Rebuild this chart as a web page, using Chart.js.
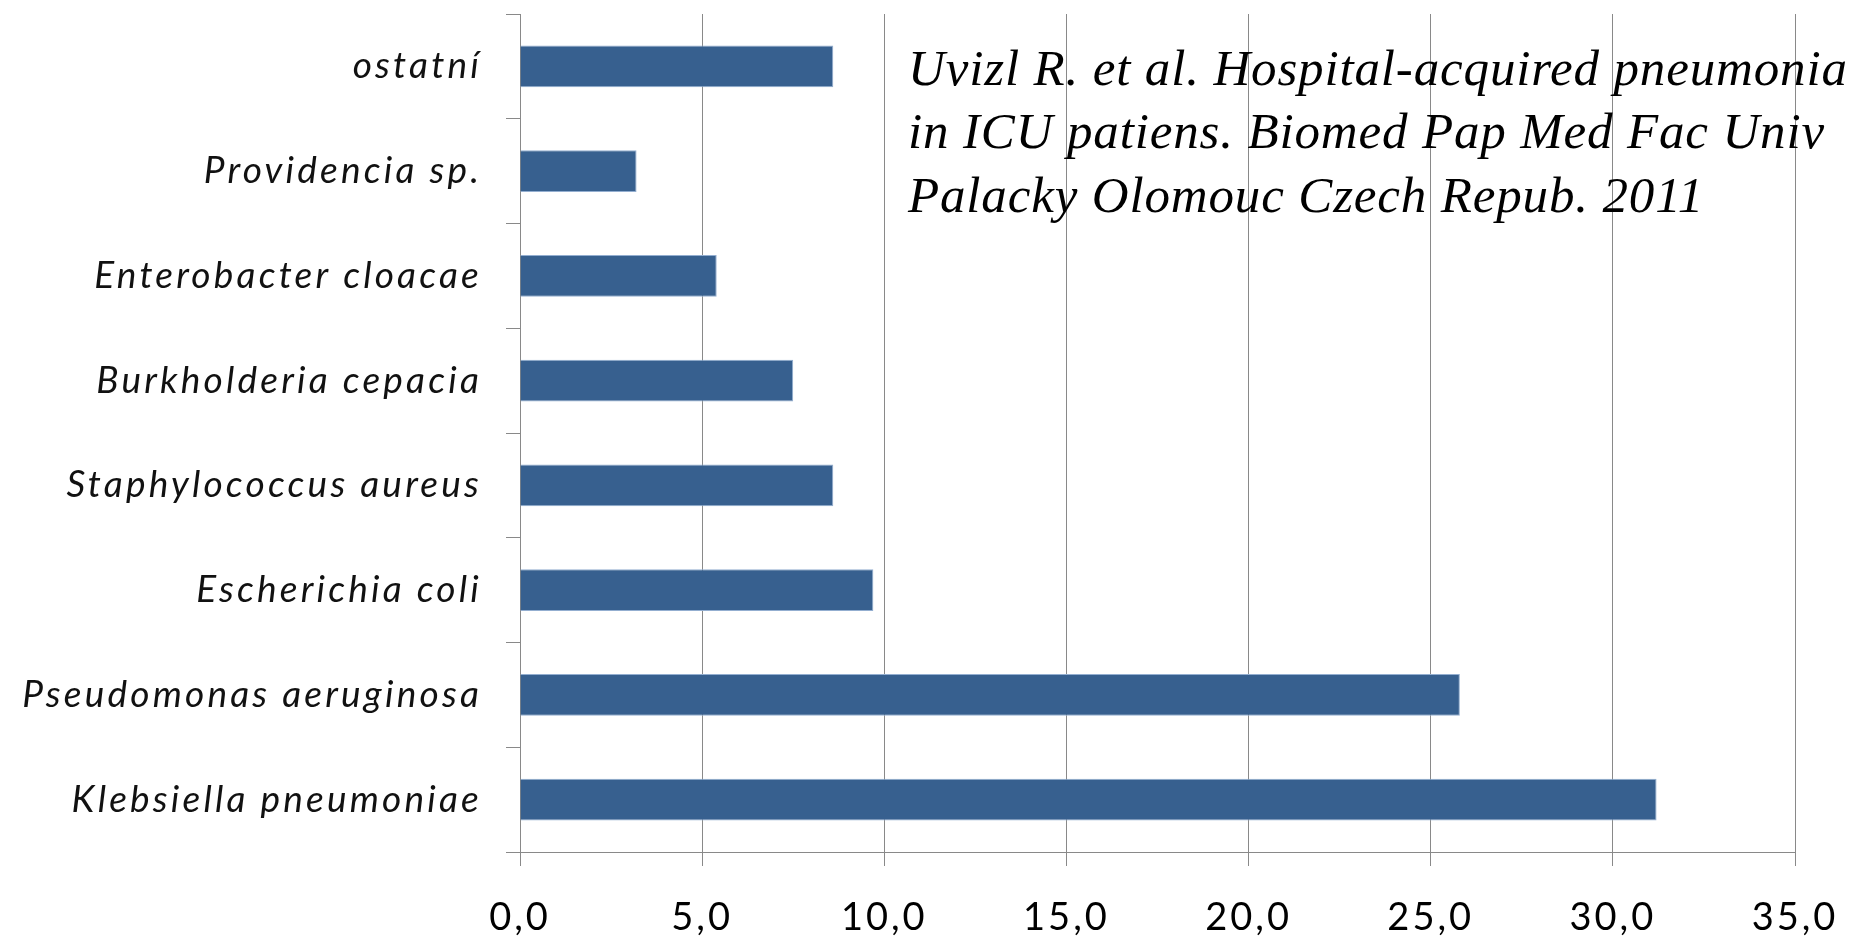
<!DOCTYPE html>
<html>
<head>
<meta charset="utf-8">
<script src="https://cdn.jsdelivr.net/npm/chart.js@4/dist/chart.umd.min.js"></script>
<style>
html,body{margin:0;padding:0;background:#fff;}
#wrap{width:1853px;height:940px;position:relative;}
</style>
</head>
<body>
<div id="wrap"><canvas id="c" width="1853" height="940"></canvas></div>
<script>
const categories = ["ostatní", "Providencia sp.", "Enterobacter cloacae", "Burkholderia cepacia", "Staphylococcus aureus", "Escherichia coli", "Pseudomonas aeruginosa", "Klebsiella pneumoniae"];
const values = [8.6, 3.2, 5.4, 7.5, 8.6, 9.7, 25.8, 31.2];
const xTickLabels = ["0,0", "5,0", "10,0", "15,0", "20,0", "25,0", "30,0", "35,0"];
const citationLines = ["Uvizl R. et al. Hospital-acquired pneumonia", "in ICU patiens. Biomed Pap Med Fac Univ", "Palacky Olomouc Czech Repub. 2011"];

function withSpacing(scale, spacing) {
  if (scale._spacingPatched) return;
  const orig = scale.drawLabels;
  scale.drawLabels = function (ca) {
    const c = this.ctx;
    const prev = c.letterSpacing;
    c.letterSpacing = spacing;
    orig.call(this, ca);
    c.letterSpacing = prev;
  };
  scale._spacingPatched = true;
}

const citationPlugin = {
  id: 'citation',
  afterDraw(chart) {
    const ctx = chart.ctx;
    ctx.save();
    ctx.fillStyle = '#000';
    ctx.font = 'italic 51px "Liberation Serif"';
    ctx.letterSpacing = '0.85px';
    ctx.textBaseline = 'alphabetic';
    ctx.textAlign = 'left';
    const x = 908, y0 = 85, lh = 63.3;
    citationLines.forEach((t, i) => ctx.fillText(t, x, y0 + i * lh));
    ctx.restore();
  }
};

new Chart(document.getElementById('c'), {
  type: 'bar',
  data: {
    labels: categories,
    datasets: [{
      data: values,
      backgroundColor: '#37608F',
      borderColor: '#93AED0',
      borderWidth: 1,
      barPercentage: 0.4,
      categoryPercentage: 1.0
    }]
  },
  options: {
    indexAxis: 'y',
    responsive: false,
    animation: false,
    layout: { padding: { top: 14, right: 58, left: 0, bottom: 0 } },
    plugins: { legend: { display: false }, tooltip: { enabled: false }, title: { display: false } },
    scales: {
      x: {
        min: 0, max: 35,
        afterFit(s) { s.height = 88; s.paddingRight = 0; s.paddingLeft = 0; },
        afterUpdate(s) { withSpacing(s, '3px'); },
        ticks: {
          stepSize: 5,
          color: '#000',
          font: { family: 'Lato', size: 38 },
          padding: 29,
          callback: (v, i) => xTickLabels[i]
        },
        grid: { color: '#898989', lineWidth: 1, tickLength: 14, drawOnChartArea: true },
        border: { color: '#898989', width: 1 }
      },
      y: {
        afterFit(s) { s.width = 520; s.paddingTop = 0; s.paddingBottom = 0; },
        afterUpdate(s) { withSpacing(s, '3.2px'); },
        ticks: {
          color: '#111',
          font: { family: 'Lato', size: 37, style: 'italic' },
          padding: 24
        },
        grid: { offset: true, color: '#898989', lineWidth: 1, tickLength: 14, drawOnChartArea: false },
        border: { color: '#898989', width: 1 }
      }
    }
  },
  plugins: [citationPlugin]
});
</script>
</body>
</html>
